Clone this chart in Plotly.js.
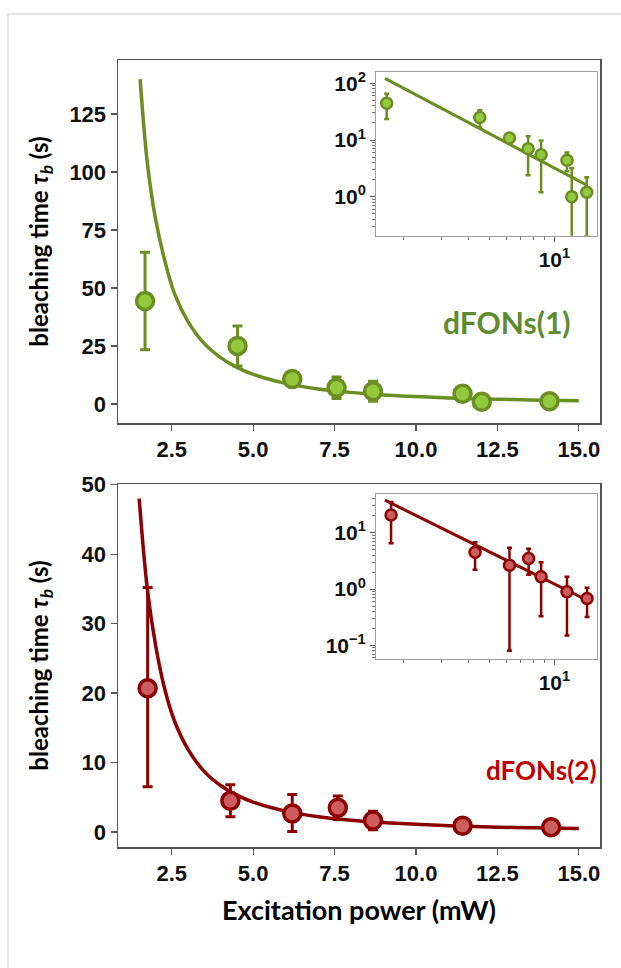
<!DOCTYPE html>
<html><head><meta charset="utf-8">
<script src="https://cdn.plot.ly/plotly-3.0.1.min.js"></script>
<style>
html,body{margin:0;padding:0;background:#fff;}
#chart{width:621px;height:968px;}
#frame{position:absolute;left:7px;top:13px;width:614px;height:955px;border-left:2px solid #e2e2e2;border-top:2px solid #e2e2e2;pointer-events:none;}
</style>
</head><body>
<div id="chart"></div><div id="frame"></div>
<script>
// dFONs(1) measured data
const power1 = [1.68, 4.52, 6.2, 7.56, 8.68, 11.43, 12.02, 14.1];
const tau1 = [44.4, 25.0, 10.8, 7.0, 5.5, 4.4, 1.0, 1.2];
const err1 = [21.0, 8.6, 1.5, 4.6, 4.3, 1.6, 2.2, 1.0];
// dFONs(1) fitted curve
const fitP1 = [1.53, 1.75, 2.0, 2.3, 2.6, 3.0, 3.5, 4.0, 4.5, 5.0, 6.0, 7.0, 8.0, 9.0, 10.0, 11.0, 12.0, 13.0, 14.0, 15.0];
const fitT1 = [140, 104, 80, 61, 47, 35.5, 26, 20, 15.8, 12.8, 8.9, 6.5, 5.0, 3.9, 3.2, 2.6, 2.2, 1.9, 1.6, 1.4];
const insetFitP1 = [1.65, 14.1];
const insetFitT1 = [122, 1.6];

// dFONs(2) measured data
const power2 = [1.76, 4.3, 6.2, 7.6, 8.68, 11.43, 14.15];
const tau2 = [20.7, 4.5, 2.65, 3.5, 1.66, 0.9, 0.68];
const err2plus = [14.5, 2.3, 2.75, 1.7, 1.33, 0.76, 0.38];
const err2minus = [14.2, 2.3, 2.57, 1.7, 1.33, 0.75, 0.36];
// dFONs(2) fitted curve
const fitP2 = [1.5, 1.75, 2.0, 2.3, 2.6, 3.0, 3.5, 4.0, 4.5, 5.0, 6.0, 7.0, 8.0, 9.0, 10.0, 11.0, 12.0, 13.0, 14.0, 15.0];
const fitT2 = [48, 35, 27, 20.3, 15.8, 11.9, 8.7, 6.7, 5.3, 4.3, 3.0, 2.2, 1.7, 1.35, 1.1, 0.9, 0.76, 0.65, 0.56, 0.5];
const insetFitP2 = [1.65, 14.1];
const insetFitT2 = [38, 0.64];

// tick labels
const xTicks = [2.5, 5.0, 7.5, 10.0, 12.5, 15.0];
const xTickText = ['2.5', '5.0', '7.5', '10.0', '12.5', '15.0'];
const yTicks1 = [0, 25, 50, 75, 100, 125];
const yTicks2 = [0, 10, 20, 30, 40, 50];
const insetXTicks = [10];
const insetXText = ['10<sup>1</sup>'];
const insetYTicks1 = [1, 10, 100];
const insetYText1 = ['10<sup>0</sup>', '10<sup>1</sup>', '10<sup>2</sup>'];
const insetYTicks2 = [0.1, 1, 10];
const insetYText2 = ['10<sup>\u22121</sup>', '10<sup>0</sup>', '10<sup>1</sup>'];
const minorX = [2, 3, 4, 5, 6, 7, 8, 9];
const minorY1 = [0.3, 0.4, 0.5, 0.6, 0.7, 0.8, 0.9, 2, 3, 4, 5, 6, 7, 8, 9, 20, 30, 40, 50, 60, 70, 80, 90];
const minorY2 = [0.06, 0.07, 0.08, 0.09, 0.2, 0.3, 0.4, 0.5, 0.6, 0.7, 0.8, 0.9, 2, 3, 4, 5, 6, 7, 8, 9, 20, 30, 40];

const G_LINE = '#6b8e23', G_FILL = '#94c83d', G_TEXT = '#5e8b30';
const R_LINE = '#8b0000', R_FILL = '#cd5c5c', R_TEXT = '#c00000';

const tickFont = {family: 'Liberation Sans, Arial, sans-serif', size: 22, color: '#111', weight: 700};
const insetTickFont = {family: 'Liberation Sans, Arial, sans-serif', size: 21, color: '#111', weight: 700};
const yTitleFont = {family: 'Lato, sans-serif', size: 24, color: '#000', weight: 700};
const xTitleFont = {family: 'Lato, sans-serif', size: 27, color: '#000', weight: 700};

function px(x) { return x / 621; }
function py(y) { return (968 - y) / 968; }

const traces = [
  {x: fitP1, y: fitT1, xaxis: 'x', yaxis: 'y', mode: 'lines', line: {color: G_LINE, width: 3.5, shape: 'spline'}, hoverinfo: 'skip'},
  {x: power1, y: tau1, xaxis: 'x', yaxis: 'y', mode: 'markers',
   marker: {size: 17, color: G_FILL, line: {color: G_LINE, width: 3.5}},
   error_y: {type: 'data', array: err1, visible: true, color: G_LINE, thickness: 3, width: 5}},
  {x: insetFitP1, y: insetFitT1, xaxis: 'x2', yaxis: 'y2', mode: 'lines', line: {color: G_LINE, width: 3}, hoverinfo: 'skip'},
  {x: power1, y: tau1, xaxis: 'x2', yaxis: 'y2', mode: 'markers',
   marker: {size: 11, color: G_FILL, line: {color: G_LINE, width: 2.5}},
   error_y: {type: 'data', array: err1, visible: true, color: G_LINE, thickness: 2.5, width: 2.5}},
  {x: fitP2, y: fitT2, xaxis: 'x3', yaxis: 'y3', mode: 'lines', line: {color: R_LINE, width: 3.5, shape: 'spline'}, hoverinfo: 'skip'},
  {x: power2, y: tau2, xaxis: 'x3', yaxis: 'y3', mode: 'markers',
   marker: {size: 17, color: R_FILL, line: {color: R_LINE, width: 3.5}},
   error_y: {type: 'data', symmetric: false, array: err2plus, arrayminus: err2minus, visible: true, color: R_LINE, thickness: 3, width: 5}},
  {x: insetFitP2, y: insetFitT2, xaxis: 'x4', yaxis: 'y4', mode: 'lines', line: {color: R_LINE, width: 3}, hoverinfo: 'skip'},
  {x: power2, y: tau2, xaxis: 'x4', yaxis: 'y4', mode: 'markers',
   marker: {size: 11, color: R_FILL, line: {color: R_LINE, width: 2.5}},
   error_y: {type: 'data', symmetric: false, array: err2plus, arrayminus: err2minus, visible: true, color: R_LINE, thickness: 2.5, width: 2.5}}
];

const mainAxis = {
  showline: true, mirror: true, linecolor: '#555', linewidth: 1.5,
  ticks: 'outside', ticklen: 6, tickwidth: 1.2, tickcolor: '#555',
  showgrid: false, zeroline: false, tickfont: tickFont, automargin: false
};
const insetAxis = {
  showline: true, mirror: true, linecolor: '#a0a0a0', linewidth: 1,
  ticks: 'outside', ticklen: 5, tickwidth: 1, tickcolor: '#555',
  showgrid: false, zeroline: false, tickfont: insetTickFont, automargin: false,
  type: 'log', tickmode: 'array'
};

const layout = {
  width: 621, height: 968,
  margin: {l: 0, r: 0, t: 0, b: 0},
  paper_bgcolor: 'rgba(0,0,0,0)', plot_bgcolor: 'rgba(0,0,0,0)',
  showlegend: false,
  xaxis: Object.assign({}, mainAxis, {domain: [px(118), px(600)], range: [0.85, 15.65], tickvals: xTicks, ticktext: xTickText, anchor: 'y'}),
  yaxis: Object.assign({}, mainAxis, {domain: [py(423), py(60)], range: [-8.2, 148.3], tickvals: yTicks1, anchor: 'x',
    title: {text: 'bleaching time <i>τ<sub>b</sub></i> (s)', font: yTitleFont, standoff: 14}}),
  xaxis2: Object.assign({}, insetAxis, {domain: [px(376), px(597.3)], range: [0.176, 1.198], tickvals: insetXTicks, ticktext: insetXText, anchor: 'y2',
    minor: {tickmode: 'array', tickvals: minorX, ticks: 'outside', ticklen: 3, tickcolor: '#777'}}),
  yaxis2: Object.assign({}, insetAxis, {domain: [py(235.7), py(72.3)], range: [-0.688, 2.194], tickvals: insetYTicks1, ticktext: insetYText1, anchor: 'x2',
    minor: {tickmode: 'array', tickvals: minorY1, ticks: 'outside', ticklen: 3, tickcolor: '#777'}}),
  xaxis3: Object.assign({}, mainAxis, {domain: [px(118), px(600)], range: [0.85, 15.65], tickvals: xTicks, ticktext: xTickText, anchor: 'y3',
    title: {text: 'Excitation power (mW)', font: xTitleFont, standoff: 16}}),
  yaxis3: Object.assign({}, mainAxis, {domain: [py(847), py(484)], range: [-2.16, 50.1], tickvals: yTicks2, anchor: 'x3',
    title: {text: 'bleaching time <i>τ<sub>b</sub></i> (s)', font: yTitleFont, standoff: 26}}),
  xaxis4: Object.assign({}, insetAxis, {domain: [px(376), px(597.3)], range: [0.176, 1.198], tickvals: insetXTicks, ticktext: insetXText, anchor: 'y4',
    minor: {tickmode: 'array', tickvals: minorX, ticks: 'outside', ticklen: 3, tickcolor: '#777'}}),
  yaxis4: Object.assign({}, insetAxis, {domain: [py(659), py(494.3)], range: [-1.242, 1.684], tickvals: insetYTicks2, ticktext: insetYText2, anchor: 'x4',
    minor: {tickmode: 'array', tickvals: minorY2, ticks: 'outside', ticklen: 3, tickcolor: '#777'}}),
  annotations: [
    {text: 'dFONs(1)', xref: 'paper', yref: 'paper', x: px(507), y: py(322), showarrow: false,
     font: {family: 'Lato, sans-serif', size: 30, color: G_TEXT, weight: 700}, xanchor: 'center', yanchor: 'middle'},
    {text: 'dFONs(2)', xref: 'paper', yref: 'paper', x: px(541), y: py(770), showarrow: false,
     font: {family: 'Lato, sans-serif', size: 26, color: R_TEXT, weight: 700}, xanchor: 'center', yanchor: 'middle'}
  ]
};

Plotly.newPlot('chart', traces, layout, {displayModeBar: false, staticPlot: true});
</script>
</body></html>
